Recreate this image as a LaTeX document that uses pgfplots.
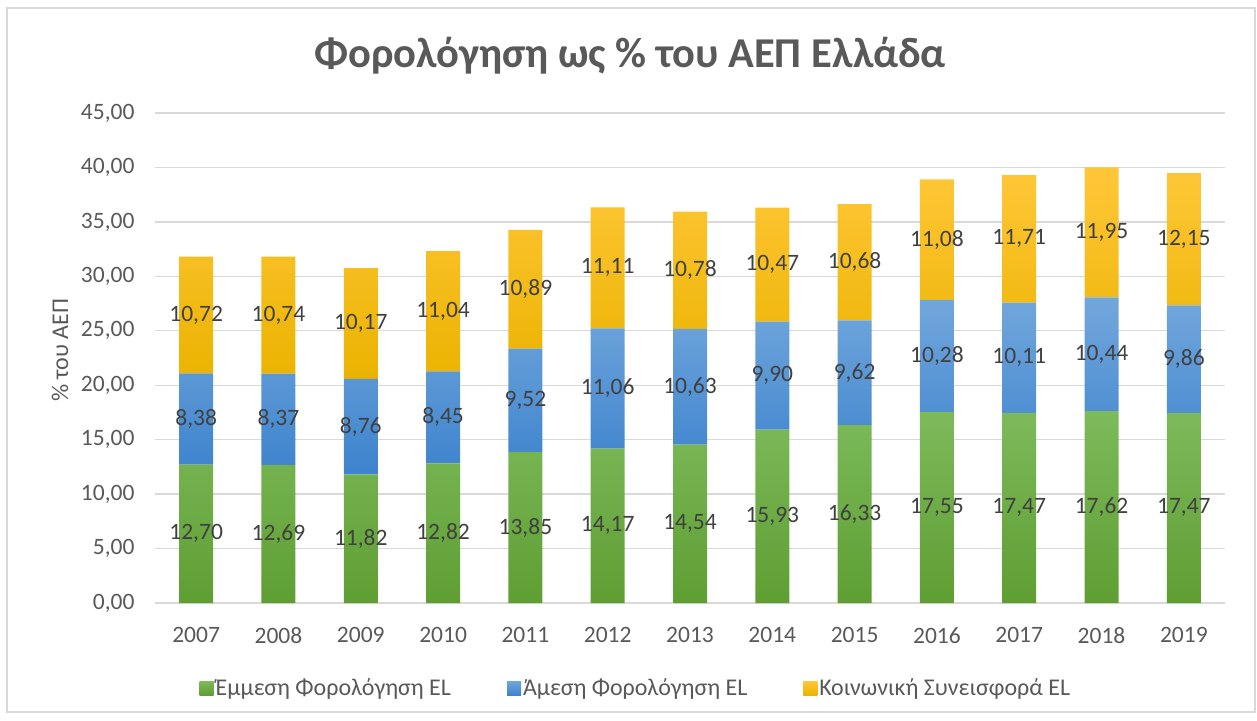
\documentclass[border=0pt]{standalone}
\usepackage{pgfplots}
\pgfplotsset{compat=1.18}
\usepackage{pgfplotstable}
\usepackage{fontspec}
\setmainfont{Carlito}
\definecolor{gridc}{HTML}{D9D9D9}
\definecolor{txt}{HTML}{595959}
\definecolor{lbl}{HTML}{404040}
\definecolor{gtop}{HTML}{7DBA5B}
\definecolor{gbot}{HTML}{5E9E32}
\definecolor{btop}{HTML}{72A7DC}
\definecolor{bbot}{HTML}{3D83CD}
\definecolor{ytop}{HTML}{FFC738}
\definecolor{ybot}{HTML}{EBB300}
\pgfplotstableread{
x g b y
0 12.70 8.38 10.72
1 12.69 8.37 10.74
2 11.82 8.76 10.17
3 12.82 8.45 11.04
4 13.85 9.52 10.89
5 14.17 11.06 11.11
6 14.54 10.63 10.78
7 15.93 9.90 10.47
8 16.33 9.62 10.68
9 17.55 10.28 11.08
10 17.47 10.11 11.71
11 17.62 10.44 11.95
12 17.47 9.86 12.15
}\data
\begin{document}
\begin{tikzpicture}
\path[use as bounding box] (-155pt,-117pt) rectangle (1102pt,603pt);
\draw[gridc, line width=1.3pt] (-148pt,-109pt) rectangle (1100pt,595pt);
\begin{axis}[
  at={(0pt,0pt)}, anchor=south west,
  scale only axis, width=1070pt, height=490pt,
  ybar stacked, bar width=34pt,
  xmin=-0.5, xmax=12.5, ymin=0, ymax=45,
  xtick=data,
  xticklabels={2007,2008,2009,2010,2011,2012,2013,2014,2015,2016,2017,2018,2019},
  ytick={0,5,...,45},
  axis x line*=bottom,
  axis y line*=left,
  x axis line style={draw=gridc, line width=1.3pt, -},
  y axis line style={draw=none},
  major tick length=0pt,
  ymajorgrids, grid style={gridc, line width=1.3pt},
  tick label style={font=\fontsize{23.5}{27}\selectfont, text=txt},
  /pgf/number format/assume math mode=true,
  yticklabel style={/pgf/number format/fixed, /pgf/number format/fixed zerofill, /pgf/number format/precision=2, /pgf/number format/use comma, xshift=-17pt},
  xticklabel style={yshift=-21pt},
  ylabel={\% του ΑΕΠ},
  every axis y label/.style={at={(axis description cs:-0.0888,0.516)}, rotate=90, anchor=center, font=\fontsize{24}{28}\selectfont, text=txt},
  title={\textbf{Φορολόγηση ως \% του ΑΕΠ Ελλάδα}},
  every axis title/.style={at={(axis description cs:0.444,1)}, anchor=center, yshift=57pt, font=\fontsize{42.5}{48}\selectfont, text=txt},
  legend columns=3,
  legend style={at={(axis description cs:0.4495,-0.1735)}, anchor=center, draw=none, fill=none,
    font=\fontsize{24}{28}\selectfont, text=txt,
    /tikz/every even column/.append style={column sep=54pt}},
  legend image code/.code={\path[#1, draw=none] (0pt,-7pt) rectangle (14pt,7pt);},
  nodes near coords,
  point meta=explicit,
  every node near coord/.append style={font=\fontsize{23.5}{27}\selectfont, text=lbl, anchor=center},
  nodes near coords={\pgfmathprintnumber[fixed, fixed zerofill, precision=2, use comma, assume math mode=true]{\pgfplotspointmeta}},
]
\addplot[draw=none, top color=gtop, bottom color=gbot] table[x=x, y=g, meta=g] {\data};
\addplot[draw=none, top color=btop, bottom color=bbot] table[x=x, y=b, meta=b] {\data};
\addplot[draw=none, top color=ytop, bottom color=ybot] table[x=x, y=y, meta=y] {\data};
\legend{Έμμεση Φορολόγηση EL, Άμεση Φορολόγηση EL, Κοινωνική Συνεισφορά EL}
\end{axis}
\end{tikzpicture}
\end{document}
